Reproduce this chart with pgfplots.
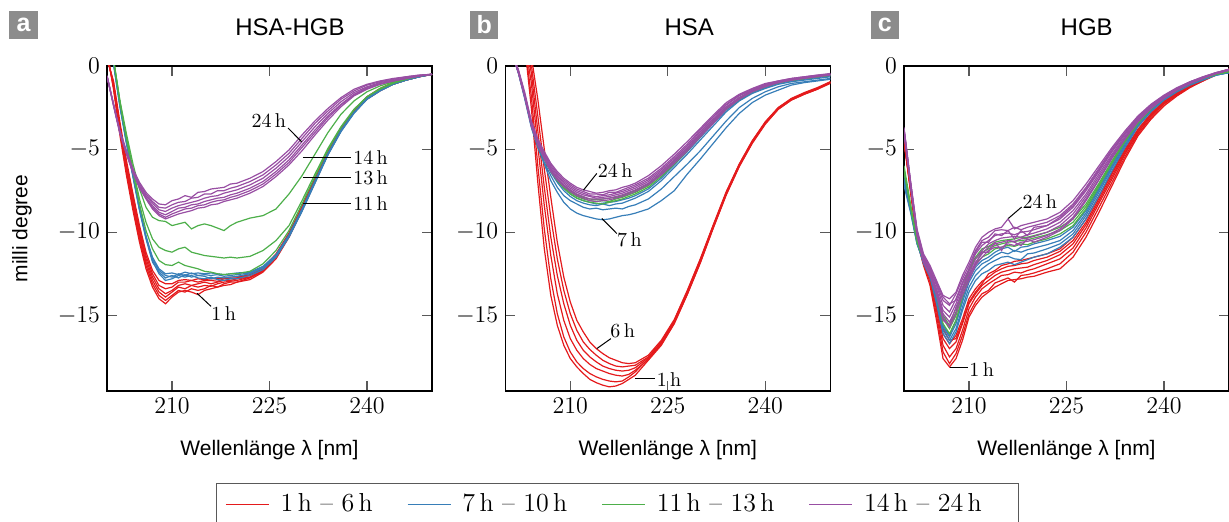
\documentclass[border=0pt]{standalone}
\usepackage{fontspec}
\usepackage{pgfplots}
\usepackage{pgfplotstable}
\pgfplotsset{compat=1.18}
\newfontfamily\lab{Liberation Sans}
\definecolor{cR}{HTML}{E41A1C}
\definecolor{cB}{HTML}{377EB8}
\definecolor{cG}{HTML}{4DAF4A}
\definecolor{cP}{HTML}{984EA3}

% Panel a: HSA-HGB
\pgfplotstableread{
x r1 r2 r3 r4 r5 r6 b1 b2 b3 b4 g1 g2 g3 p1 p2 p3 p4 p5 p6
200 0.9 0.8 0.7 0.6 0.5 0.4 1.6 1.5 1.7 1.6 1.8 1.8 1.8 -0.6 -0.6 -0.6 -0.6 -0.6 -0.6
201 -1.4 -1.3 -1.2 -1.1 -1.0 -0.9 0.2 0.1 0.3 0.2 0.4 0.4 0.4 -2.3 -2.3 -2.3 -2.3 -2.35 -2.4
202 -4.2 -4.0 -3.9 -3.7 -3.6 -3.4 -2.4 -2.5 -2.3 -2.4 -2.2 -2.2 -2.1 -3.9 -4.0 -4.0 -4.0 -4.05 -4.1
203 -6.6 -6.4 -6.2 -6.0 -5.9 -5.7 -4.6 -4.7 -4.5 -4.6 -4.4 -4.3 -4.1 -5.1 -5.2 -5.2 -5.25 -5.3 -5.3
204 -8.7 -8.5 -8.3 -8.1 -7.9 -7.7 -6.6 -6.7 -6.5 -6.6 -6.4 -6.2 -5.9 -6.2 -6.25 -6.3 -6.35 -6.4 -6.45
205 -10.6 -10.4 -10.2 -10.0 -9.8 -9.6 -8.6 -8.7 -8.5 -8.6 -8.3 -8.0 -7.4 -7.0 -7.1 -7.2 -7.25 -7.3 -7.35
206 -12.2 -12.0 -11.8 -11.6 -11.4 -11.2 -10.3 -10.4 -10.2 -10.3 -9.9 -9.4 -8.5 -7.6 -7.7 -7.8 -7.9 -7.95 -8.0
207 -13.3 -13.1 -12.9 -12.7 -12.5 -12.3 -11.7 -11.8 -11.6 -11.5 -11.0 -10.4 -9.1 -8.0 -8.15 -8.25 -8.4 -8.5 -8.6
208 -14.0 -13.8 -13.6 -13.4 -13.2 -12.9 -12.5 -12.4 -12.3 -12.2 -11.7 -10.9 -9.3 -8.3 -8.5 -8.65 -8.8 -8.9 -9.0
209 -14.3 -14.1 -13.9 -13.7 -13.4 -13.1 -12.9 -12.75 -12.6 -12.5 -11.95 -11.1 -9.35 -8.35 -8.55 -8.75 -8.95 -9.1 -9.2
210 -13.9 -13.8 -13.6 -13.5 -13.3 -13.1 -12.8 -12.6 -12.7 -12.45 -12.0 -11.2 -9.6 -8.1 -8.35 -8.55 -8.75 -8.9 -9.05
211 -13.6 -13.5 -13.3 -13.2 -13.0 -12.9 -12.6 -12.75 -12.5 -12.55 -11.8 -11.0 -9.5 -8.0 -8.2 -8.4 -8.55 -8.75 -8.9
212 -13.5 -13.6 -13.4 -13.1 -13.0 -12.85 -12.7 -12.55 -12.6 -12.4 -12.0 -10.9 -9.4 -7.8 -8.15 -8.3 -8.5 -8.6 -8.8
213 -13.6 -13.4 -13.2 -13.2 -12.9 -12.9 -12.6 -12.7 -12.45 -12.5 -12.1 -11.2 -9.8 -7.9 -7.95 -8.2 -8.35 -8.55 -8.7
214 -13.75 -13.5 -13.3 -13.1 -13.0 -12.8 -12.75 -12.6 -12.6 -12.45 -12.2 -11.3 -9.6 -7.6 -7.9 -8.1 -8.3 -8.4 -8.55
215 -13.5 -13.4 -13.2 -13.0 -12.9 -12.85 -12.8 -12.65 -12.55 -12.5 -12.35 -11.4 -9.5 -7.55 -7.7 -7.95 -8.15 -8.35 -8.5
216 -13.4 -13.2 -13.25 -13.1 -12.9 -12.8 -12.7 -12.8 -12.6 -12.45 -12.4 -11.45 -9.6 -7.4 -7.7 -7.85 -8.05 -8.2 -8.35
217 -13.3 -13.3 -13.1 -13.0 -12.95 -12.8 -12.85 -12.7 -12.55 -12.5 -12.5 -11.5 -9.75 -7.35 -7.5 -7.8 -7.95 -8.1 -8.3
218 -13.2 -13.1 -13.0 -12.9 -12.8 -12.75 -12.9 -12.75 -12.65 -12.55 -12.55 -11.55 -9.9 -7.3 -7.5 -7.65 -7.9 -8.05 -8.15
219 -13.15 -13.0 -12.95 -12.9 -12.8 -12.7 -12.8 -12.7 -12.6 -12.5 -12.5 -11.5 -9.6 -7.1 -7.35 -7.55 -7.75 -7.9 -8.05
220 -13.0 -13.0 -12.9 -12.8 -12.75 -12.7 -12.8 -12.65 -12.55 -12.45 -12.5 -11.55 -9.4 -7.05 -7.25 -7.45 -7.65 -7.8 -7.95
222 -12.85 -12.75 -12.7 -12.7 -12.6 -12.55 -12.6 -12.5 -12.45 -12.4 -12.35 -11.45 -9.15 -6.75 -6.95 -7.15 -7.35 -7.5 -7.65
224 -12.4 -12.35 -12.3 -12.25 -12.2 -12.15 -12.25 -12.15 -12.1 -12.05 -11.9 -11.1 -9.0 -6.35 -6.55 -6.75 -6.95 -7.1 -7.25
226 -11.6 -11.5 -11.45 -11.4 -11.35 -11.3 -11.5 -11.45 -11.4 -11.35 -11.1 -10.5 -8.6 -5.75 -5.95 -6.15 -6.35 -6.5 -6.65
228 -10.3 -10.25 -10.2 -10.15 -10.1 -10.05 -10.3 -10.25 -10.2 -10.15 -9.9 -9.6 -7.7 -5.05 -5.25 -5.45 -5.65 -5.8 -5.95
230 -8.7 -8.65 -8.6 -8.55 -8.5 -8.45 -8.75 -8.7 -8.65 -8.6 -8.3 -8.1 -6.6 -4.15 -4.35 -4.55 -4.75 -4.9 -5.1
232 -7.0 -6.95 -6.9 -6.85 -6.8 -6.75 -7.05 -7.0 -6.95 -6.9 -6.65 -6.5 -5.3 -3.3 -3.45 -3.65 -3.85 -4.0 -4.15
234 -5.3 -5.25 -5.2 -5.2 -5.15 -5.1 -5.35 -5.3 -5.3 -5.25 -5.05 -4.95 -4.0 -2.55 -2.7 -2.85 -3.0 -3.1 -3.25
236 -3.9 -3.85 -3.85 -3.8 -3.8 -3.75 -3.95 -3.9 -3.9 -3.85 -3.7 -3.65 -2.9 -1.9 -2.0 -2.15 -2.3 -2.35 -2.45
238 -2.8 -2.75 -2.75 -2.7 -2.7 -2.65 -2.85 -2.8 -2.8 -2.8 -2.65 -2.6 -2.1 -1.4 -1.5 -1.6 -1.7 -1.75 -1.8
240 -2.0 -1.95 -1.95 -1.9 -1.9 -1.85 -2.0 -2.0 -1.95 -1.95 -1.85 -1.85 -1.55 -1.1 -1.15 -1.25 -1.3 -1.35 -1.4
242 -1.5 -1.45 -1.45 -1.4 -1.4 -1.35 -1.5 -1.5 -1.45 -1.45 -1.4 -1.35 -1.2 -0.9 -0.95 -1.0 -1.05 -1.1 -1.1
244 -1.1 -1.1 -1.05 -1.05 -1.05 -1.0 -1.1 -1.1 -1.1 -1.1 -1.05 -1.0 -0.95 -0.75 -0.8 -0.85 -0.9 -0.9 -0.9
246 -0.85 -0.85 -0.85 -0.8 -0.8 -0.8 -0.85 -0.85 -0.85 -0.85 -0.8 -0.8 -0.75 -0.65 -0.65 -0.7 -0.75 -0.75 -0.75
248 -0.65 -0.65 -0.65 -0.6 -0.6 -0.6 -0.65 -0.65 -0.65 -0.65 -0.6 -0.6 -0.6 -0.55 -0.55 -0.6 -0.6 -0.6 -0.6
250 -0.5 -0.5 -0.5 -0.5 -0.5 -0.5 -0.5 -0.5 -0.5 -0.5 -0.5 -0.5 -0.5 -0.5 -0.5 -0.5 -0.5 -0.5 -0.5
}\tabA

% Panel b: HSA
\pgfplotstableread{
x r1 r2 r3 r4 r5 r6 b1 b2 b3 b4 g1 g2 g3 p1 p2 p3 p4 p5 p6
200 3.0 3.0 3.0 3.0 3.0 3.0 2.0 2.0 2.0 2.0 2.0 2.0 2.0 2.0 2.0 2.0 2.0 2.0 2.0
201 2.5 2.5 2.5 2.6 2.6 2.6 0.8 0.8 0.8 0.8 0.8 0.8 0.8 0.8 0.8 0.8 0.8 0.8 0.8
202 2.0 2.0 2.1 2.1 2.2 2.2 -0.4 -0.4 -0.35 -0.35 -0.3 -0.3 -0.3 -0.2 -0.25 -0.3 -0.3 -0.35 -0.4
203 1.2 1.3 1.4 1.5 1.5 1.5 -2.0 -1.9 -1.85 -1.85 -1.8 -1.8 -1.8 -1.6 -1.7 -1.75 -1.8 -1.85 -1.9
204 -2.5 -1.8 -1.0 -0.4 0.1 0.6 -3.7 -3.6 -3.55 -3.5 -3.5 -3.5 -3.5 -3.3 -3.4 -3.45 -3.5 -3.55 -3.6
205 -7.0 -6.0 -4.8 -3.9 -3.0 -2.0 -4.9 -4.8 -4.7 -4.7 -4.7 -4.7 -4.65 -4.4 -4.5 -4.55 -4.65 -4.7 -4.75
206 -11.0 -9.8 -8.4 -7.3 -6.2 -5.0 -5.9 -5.8 -5.6 -5.55 -5.6 -5.6 -5.5 -5.15 -5.25 -5.35 -5.45 -5.5 -5.6
207 -13.8 -12.8 -11.4 -10.3 -9.1 -7.9 -6.9 -6.6 -6.4 -6.3 -6.3 -6.35 -6.25 -5.85 -5.95 -6.05 -6.15 -6.25 -6.35
208 -15.6 -14.9 -13.7 -12.6 -11.6 -10.6 -7.6 -7.3 -7.0 -6.9 -6.85 -6.9 -6.8 -6.35 -6.45 -6.55 -6.65 -6.75 -6.85
209 -16.8 -16.3 -15.3 -14.3 -13.5 -12.7 -8.2 -7.8 -7.5 -7.35 -7.3 -7.35 -7.2 -6.75 -6.85 -6.95 -7.05 -7.15 -7.25
210 -17.6 -17.2 -16.4 -15.6 -14.9 -14.2 -8.6 -8.1 -7.85 -7.7 -7.6 -7.7 -7.5 -7.05 -7.15 -7.25 -7.35 -7.45 -7.55
211 -18.1 -17.8 -17.1 -16.5 -15.9 -15.3 -8.85 -8.3 -8.1 -7.95 -7.85 -7.95 -7.75 -7.3 -7.4 -7.5 -7.6 -7.7 -7.8
212 -18.5 -18.2 -17.6 -17.1 -16.6 -16.0 -9.0 -8.5 -8.25 -8.1 -8.0 -8.1 -7.9 -7.45 -7.55 -7.65 -7.75 -7.85 -7.95
213 -18.85 -18.5 -17.95 -17.5 -17.05 -16.6 -9.1 -8.6 -8.35 -8.2 -8.1 -8.2 -8.0 -7.55 -7.7 -7.8 -7.85 -8.0 -8.1
214 -19.05 -18.7 -18.2 -17.8 -17.4 -17.0 -9.2 -8.55 -8.4 -8.3 -8.15 -8.25 -8.05 -7.65 -7.7 -7.85 -7.95 -8.0 -8.15
215 -19.2 -18.85 -18.35 -18.05 -17.7 -17.3 -9.25 -8.65 -8.3 -8.25 -8.1 -8.3 -8.0 -7.6 -7.75 -7.8 -7.9 -8.0 -8.1
216 -19.3 -18.95 -18.5 -18.2 -17.9 -17.55 -9.2 -8.6 -8.4 -8.2 -8.15 -8.2 -7.95 -7.5 -7.6 -7.75 -7.85 -7.95 -8.05
217 -19.25 -19.0 -18.6 -18.3 -18.05 -17.7 -9.1 -8.55 -8.3 -8.15 -8.0 -8.1 -7.9 -7.45 -7.6 -7.65 -7.75 -7.85 -7.95
218 -19.1 -18.95 -18.65 -18.35 -18.1 -17.85 -9.0 -8.6 -8.25 -8.05 -7.9 -8.0 -7.8 -7.3 -7.45 -7.55 -7.65 -7.75 -7.85
219 -18.85 -18.7 -18.55 -18.3 -18.05 -17.9 -8.95 -8.45 -8.1 -7.95 -7.75 -7.85 -7.65 -7.2 -7.3 -7.4 -7.5 -7.6 -7.7
220 -18.6 -18.4 -18.3 -18.15 -18.0 -17.85 -8.85 -8.35 -7.95 -7.8 -7.6 -7.7 -7.5 -7.05 -7.15 -7.25 -7.35 -7.45 -7.55
222 -17.7 -17.6 -17.65 -17.55 -17.5 -17.4 -8.6 -8.0 -7.55 -7.4 -7.2 -7.3 -7.1 -6.6 -6.75 -6.85 -6.95 -7.05 -7.15
224 -16.8 -16.7 -16.75 -16.6 -16.6 -16.5 -8.1 -7.4 -6.9 -6.75 -6.55 -6.65 -6.45 -6.0 -6.15 -6.25 -6.35 -6.45 -6.55
226 -15.5 -15.4 -15.45 -15.35 -15.3 -15.25 -7.5 -6.65 -6.1 -5.95 -5.8 -5.9 -5.7 -5.3 -5.45 -5.55 -5.65 -5.75 -5.85
228 -13.75 -13.7 -13.7 -13.6 -13.55 -13.5 -6.5 -5.9 -5.3 -5.15 -5.0 -5.1 -4.95 -4.55 -4.7 -4.8 -4.9 -5.0 -5.1
230 -11.85 -11.8 -11.8 -11.7 -11.65 -11.6 -5.6 -5.1 -4.45 -4.3 -4.15 -4.25 -4.1 -3.75 -3.85 -3.95 -4.05 -4.15 -4.25
232 -9.75 -9.7 -9.7 -9.6 -9.6 -9.55 -4.65 -4.2 -3.6 -3.45 -3.35 -3.4 -3.3 -2.95 -3.05 -3.15 -3.25 -3.35 -3.45
234 -7.75 -7.7 -7.7 -7.65 -7.6 -7.55 -3.7 -3.3 -2.75 -2.65 -2.55 -2.6 -2.5 -2.2 -2.3 -2.35 -2.45 -2.5 -2.6
236 -6.05 -6.0 -6.0 -5.95 -5.9 -5.9 -2.85 -2.5 -2.1 -2.05 -1.95 -2.0 -1.9 -1.7 -1.75 -1.8 -1.9 -1.95 -2.0
238 -4.65 -4.6 -4.6 -4.55 -4.5 -4.5 -2.2 -1.95 -1.65 -1.6 -1.5 -1.55 -1.5 -1.35 -1.4 -1.45 -1.5 -1.5 -1.55
240 -3.5 -3.45 -3.45 -3.4 -3.4 -3.35 -1.75 -1.55 -1.35 -1.3 -1.2 -1.25 -1.2 -1.05 -1.1 -1.15 -1.2 -1.2 -1.25
242 -2.6 -2.6 -2.55 -2.55 -2.5 -2.5 -1.45 -1.25 -1.1 -1.05 -1.0 -1.0 -1.0 -0.9 -0.9 -0.95 -0.95 -1.0 -1.0
244 -2.05 -2.05 -2.0 -2.0 -2.0 -1.95 -1.15 -1.05 -0.95 -0.9 -0.85 -0.85 -0.85 -0.75 -0.75 -0.8 -0.8 -0.85 -0.85
246 -1.7 -1.7 -1.65 -1.65 -1.65 -1.6 -1.0 -0.95 -0.85 -0.8 -0.75 -0.75 -0.75 -0.65 -0.65 -0.7 -0.7 -0.7 -0.75
248 -1.4 -1.4 -1.35 -1.35 -1.35 -1.3 -0.9 -0.85 -0.75 -0.7 -0.65 -0.65 -0.65 -0.55 -0.55 -0.6 -0.6 -0.6 -0.65
250 -1.05 -1.0 -1.0 -1.0 -0.95 -0.95 -0.8 -0.75 -0.65 -0.6 -0.55 -0.55 -0.55 -0.45 -0.5 -0.5 -0.5 -0.5 -0.55
}\tabB

% Panel c: HGB
\pgfplotstableread{
x r1 r2 r3 r4 r5 r6 b1 b2 b3 b4 g1 g2 g3 p1 p2 p3 p4 p5 p6 p7 p8
200 -4.4 -4.5 -4.6 -4.5 -4.4 -4.5 -6.5 -6.8 -7.0 -7.2 -6.0 -6.2 -6.4 -3.7 -3.8 -3.8 -3.9 -3.9 -4.0 -3.8 -4.0
201 -7.6 -7.5 -7.4 -7.3 -7.2 -7.3 -8.5 -8.6 -8.7 -8.8 -8.3 -8.4 -8.5 -6.9 -7.0 -7.0 -7.1 -7.1 -7.2 -7.0 -7.2
202 -10.5 -10.4 -10.3 -10.2 -10.1 -10.2 -10.6 -10.6 -10.7 -10.7 -10.5 -10.5 -10.6 -9.8 -9.9 -10.0 -10.0 -10.1 -10.2 -10.0 -10.2
203 -12.0 -11.9 -11.8 -11.7 -11.6 -11.7 -11.9 -11.8 -11.8 -11.7 -11.7 -11.7 -11.7 -11.3 -11.4 -11.5 -11.6 -11.7 -11.8 -11.5 -11.8
204 -13.2 -13.0 -12.8 -12.7 -12.6 -12.5 -12.7 -12.6 -12.5 -12.4 -12.4 -12.4 -12.3 -12.0 -12.1 -12.2 -12.3 -12.4 -12.5 -12.2 -12.6
205 -15.3 -15.0 -14.7 -14.5 -14.3 -14.1 -14.3 -14.1 -14.0 -13.9 -13.8 -13.7 -13.6 -12.9 -13.1 -13.2 -13.4 -13.5 -13.6 -13.0 -13.8
206 -17.6 -17.2 -16.8 -16.4 -16.1 -15.8 -16.1 -15.9 -15.7 -15.6 -15.5 -15.2 -15.0 -13.8 -14.1 -14.4 -14.7 -14.9 -15.1 -13.9 -15.3
207 -18.1 -17.9 -17.5 -17.0 -16.7 -16.5 -16.7 -16.5 -16.3 -16.2 -16.1 -15.8 -15.6 -14.0 -14.4 -14.8 -15.1 -15.4 -15.7 -14.3 -15.6
208 -17.6 -17.3 -17.0 -16.6 -16.2 -16.4 -16.0 -15.8 -15.5 -15.3 -15.3 -15.0 -14.8 -13.6 -13.7 -14.0 -14.3 -14.6 -14.9 -14.1 -14.5
209 -16.5 -16.2 -15.9 -15.5 -15.2 -15.4 -14.7 -14.5 -14.2 -14.0 -13.9 -13.6 -13.4 -12.6 -12.8 -13.0 -13.3 -13.5 -13.8 -13.1 -13.6
210 -15.1 -14.9 -14.6 -14.3 -14.0 -14.2 -13.6 -13.3 -13.0 -12.8 -12.6 -12.3 -12.2 -11.8 -12.0 -12.2 -12.5 -12.7 -12.9 -12.3 -12.6
211 -14.4 -14.2 -13.9 -13.7 -13.4 -13.6 -12.9 -12.6 -12.3 -12.1 -11.9 -11.6 -11.5 -10.9 -11.1 -11.3 -11.6 -11.8 -12.0 -11.2 -11.9
212 -13.9 -13.7 -13.4 -13.2 -12.95 -13.1 -12.5 -12.2 -11.9 -11.7 -11.5 -11.2 -11.0 -10.3 -10.5 -10.8 -11.1 -11.3 -11.5 -10.6 -11.2
213 -13.6 -13.5 -13.1 -12.9 -12.7 -12.5 -12.3 -11.9 -11.7 -11.5 -11.3 -11.0 -10.85 -10.0 -10.3 -10.5 -10.7 -10.9 -11.1 -10.6 -11.2
214 -13.3 -13.05 -12.85 -12.6 -12.4 -12.3 -12.0 -11.7 -11.4 -11.2 -11.0 -10.8 -10.6 -9.8 -9.9 -10.2 -10.5 -10.7 -10.9 -10.1 -10.6
215 -13.1 -12.9 -12.6 -12.4 -12.2 -12.0 -11.9 -11.5 -11.2 -11.0 -10.9 -10.7 -10.5 -9.7 -9.85 -10.1 -10.35 -10.6 -10.9 -10.2 -11.1
216 -12.9 -12.75 -12.55 -12.3 -12.05 -11.9 -11.8 -11.45 -11.3 -10.9 -10.8 -10.6 -10.45 -9.2 -9.9 -10.05 -10.3 -10.5 -10.7 -9.9 -10.5
217 -12.85 -13.0 -12.4 -12.2 -12.0 -11.75 -11.95 -11.6 -11.1 -11.15 -10.85 -10.55 -10.4 -9.8 -9.7 -10.15 -10.25 -10.55 -10.8 -10.4 -10.6
218 -12.8 -12.6 -12.45 -12.15 -11.9 -11.7 -11.8 -11.65 -11.2 -10.9 -10.7 -10.5 -10.3 -9.6 -9.85 -10.0 -10.3 -10.4 -10.6 -9.9 -10.8
219 -12.7 -12.55 -12.3 -12.1 -11.85 -11.6 -11.65 -11.3 -11.05 -10.85 -10.75 -10.45 -10.3 -9.5 -9.7 -9.95 -10.15 -10.35 -10.55 -10.2 -10.4
220 -12.65 -12.45 -12.2 -11.95 -11.7 -11.5 -11.5 -11.25 -10.95 -10.7 -10.6 -10.35 -10.2 -9.4 -9.6 -9.85 -10.05 -10.25 -10.45 -9.7 -10.6
222 -12.4 -12.2 -11.9 -11.7 -11.5 -11.3 -11.3 -11.0 -10.75 -10.5 -10.4 -10.15 -10.0 -9.2 -9.4 -9.6 -9.8 -10.0 -10.2 -9.6 -10.3
224 -12.2 -11.9 -11.6 -11.35 -11.15 -11.0 -10.9 -10.7 -10.5 -10.25 -10.1 -9.9 -9.7 -8.8 -9.0 -9.2 -9.4 -9.6 -9.8 -9.1 -9.9
226 -11.5 -11.2 -10.95 -10.7 -10.5 -10.3 -10.3 -10.1 -9.9 -9.7 -9.6 -9.4 -9.2 -8.1 -8.3 -8.5 -8.7 -8.9 -9.1 -8.4 -9.2
228 -10.3 -10.0 -9.75 -9.55 -9.4 -9.2 -9.2 -9.0 -8.85 -8.7 -8.6 -8.45 -8.3 -7.1 -7.3 -7.5 -7.7 -7.85 -8.0 -7.4 -8.1
230 -8.8 -8.5 -8.25 -8.1 -7.95 -7.8 -7.8 -7.6 -7.45 -7.35 -7.25 -7.15 -7.05 -6.0 -6.15 -6.35 -6.5 -6.65 -6.8 -6.25 -6.85
232 -7.2 -7.0 -6.8 -6.65 -6.5 -6.4 -6.3 -6.15 -6.05 -5.95 -5.85 -5.8 -5.7 -4.9 -5.0 -5.15 -5.3 -5.4 -5.5 -5.1 -5.55
234 -5.6 -5.45 -5.3 -5.2 -5.1 -5.0 -4.9 -4.8 -4.7 -4.6 -4.55 -4.5 -4.45 -3.9 -4.0 -4.1 -4.2 -4.3 -4.35 -4.05 -4.4
236 -4.2 -4.1 -4.0 -3.95 -3.85 -3.8 -3.65 -3.6 -3.55 -3.5 -3.45 -3.4 -3.35 -3.0 -3.05 -3.15 -3.2 -3.25 -3.3 -3.1 -3.35
238 -3.2 -3.1 -3.0 -2.95 -2.9 -2.85 -2.75 -2.7 -2.65 -2.6 -2.6 -2.55 -2.5 -2.3 -2.35 -2.4 -2.45 -2.5 -2.55 -2.4 -2.55
240 -2.4 -2.3 -2.25 -2.2 -2.15 -2.1 -2.05 -2.0 -1.95 -1.9 -1.9 -1.9 -1.85 -1.75 -1.8 -1.85 -1.85 -1.9 -1.9 -1.8 -1.95
242 -1.8 -1.75 -1.7 -1.65 -1.6 -1.55 -1.55 -1.5 -1.5 -1.45 -1.45 -1.45 -1.4 -1.3 -1.35 -1.4 -1.4 -1.4 -1.45 -1.35 -1.45
244 -1.3 -1.25 -1.2 -1.15 -1.1 -1.1 -1.15 -1.1 -1.1 -1.05 -1.05 -1.05 -1.0 -0.95 -0.95 -1.0 -1.0 -1.0 -1.05 -0.95 -1.05
246 -0.9 -0.9 -0.85 -0.8 -0.8 -0.75 -0.85 -0.8 -0.8 -0.75 -0.75 -0.75 -0.75 -0.65 -0.65 -0.7 -0.7 -0.7 -0.75 -0.7 -0.75
248 -0.55 -0.5 -0.5 -0.5 -0.45 -0.45 -0.55 -0.55 -0.55 -0.5 -0.5 -0.5 -0.5 -0.4 -0.4 -0.45 -0.45 -0.45 -0.45 -0.4 -0.45
250 -0.2 -0.2 -0.2 -0.2 -0.2 -0.2 -0.4 -0.4 -0.4 -0.4 -0.35 -0.35 -0.35 -0.2 -0.2 -0.25 -0.25 -0.25 -0.25 -0.2 -0.25
}\tabC

\tikzset{ann/.style={font=\fontsize{10}{12}\selectfont, inner sep=0pt}}
\pgfplotsset{
  cdstyle/.style={
    width=162.5pt, height=162.5pt, scale only axis,
    anchor=north west,
    xmin=200, xmax=250, ymin=-19.55, ymax=0,
    xtick={210,225,240}, ytick={0,-5,-10,-15},
    tick align=inside, major tick length=5pt,
    tick style={black!65, line width=0.6pt},
    axis line style={line width=0.8pt},
    tick label style={font=\fontsize{13}{15}\selectfont},
    xlabel={\lab Wellenlänge λ [nm]},
    xlabel style={at={(axis description cs:0.5,-0.1815)}, anchor=center, font=\fontsize{10.5}{12}\selectfont},
    every axis plot/.append style={line width=0.6pt},
    clip=true,
  },
}

\newcommand{\plotall}[2]{%
  \pgfplotsinvokeforeach{r1,r2,r3,r4,r5,r6}{\addplot[cR,forget plot] table[x=x,y=##1]{#1};}
  \pgfplotsinvokeforeach{b1,b2,b3,b4}{\addplot[cB,forget plot] table[x=x,y=##1]{#1};}
  \pgfplotsinvokeforeach{g1,g2,g3}{\addplot[cG,forget plot] table[x=x,y=##1]{#1};}
  \pgfplotsinvokeforeach{#2}{\addplot[cP,forget plot] table[x=x,y=##1]{#1};}
}

\begin{document}
\begin{tikzpicture}
% ---------- panel a ----------
\begin{axis}[cdstyle, at={(53.5pt,-33pt)},
  ylabel={\lab milli degree},
  ylabel style={at={(axis description cs:-0.2615,0.5)}, anchor=center, font=\fontsize{10.5}{12}\selectfont}]
\plotall{\tabA}{p1,p2,p3,p4,p5,p6}
\draw[line width=0.5pt] (axis cs:227.85,-3.73) -- (axis cs:229.95,-4.56);
\node[ann] at (axis cs:224.9,-3.28) {24\,h};
\draw[line width=0.5pt] (axis cs:230.15,-5.48) -- (axis cs:237.5,-5.48) node[ann,anchor=west,xshift=1pt] {14\,h};
\draw[line width=0.5pt] (axis cs:230.15,-6.72) -- (axis cs:237.5,-6.72) node[ann,anchor=west,xshift=1pt] {13\,h};
\draw[line width=0.5pt] (axis cs:230.15,-8.28) -- (axis cs:237.5,-8.28) node[ann,anchor=west,xshift=1pt] {11\,h};
\draw[line width=0.5pt] (axis cs:213.85,-13.67) -- (axis cs:216.0,-14.46);
\node[ann] at (axis cs:217.95,-14.9) {1\,h};
\end{axis}
% ---------- panel b ----------
\begin{axis}[cdstyle, at={(252.65pt,-33pt)},
  legend style={at={(0.345,-0.2822)}, anchor=north, legend columns=4,
    draw=black!65, line width=0.5pt, font=\fontsize{13}{15}\selectfont,
    inner xsep=4.5pt, inner ysep=3.3pt,
    /tikz/every odd column/.append style={column sep=3.5pt},
    /tikz/every even column/.append style={column sep=15pt}},
  legend cell align=left,
  legend image code/.code={\draw[#1,line width=0.8pt] (0pt,0pt) -- (21.5pt,0pt);}]
\plotall{\tabB}{p1,p2,p3,p4,p5,p6}
\draw[line width=0.5pt] (axis cs:214.08,-6.46) -- (axis cs:212.02,-7.47);
\node[ann] at (axis cs:216.9,-6.27) {24\,h};
\draw[line width=0.5pt] (axis cs:214.85,-9.17) -- (axis cs:217.16,-10.08);
\node[ann] at (axis cs:219.1,-10.44) {7\,h};
\draw[line width=0.5pt] (axis cs:214.08,-17.0) -- (axis cs:216.24,-16.4);
\node[ann] at (axis cs:218.06,-15.9) {6\,h};
\draw[line width=0.5pt] (axis cs:219.98,-18.81) -- (axis cs:223.07,-18.81);
\node[ann] at (axis cs:225.18,-18.86) {1\,h};
\addlegendimage{cR}\addlegendentry{1\,h -- 6\,h}
\addlegendimage{cB}\addlegendentry{7\,h -- 10\,h}
\addlegendimage{cG}\addlegendentry{11\,h -- 13\,h}
\addlegendimage{cP}\addlegendentry{14\,h -- 24\,h\rule{12pt}{0pt}}
\end{axis}
% ---------- panel c ----------
\begin{axis}[cdstyle, at={(452pt,-33pt)}]
\plotall{\tabC}{p1,p2,p3,p4,p5,p6,p7,p8}
\draw[line width=0.5pt] (axis cs:216.05,-9.17) -- (axis cs:218.1,-8.48);
\node[ann] at (axis cs:220.9,-8.17) {24\,h};
\draw[line width=0.5pt] (axis cs:207.08,-18.15) -- (axis cs:209.9,-18.15);
\node[ann] at (axis cs:211.95,-18.25) {1\,h};
\end{axis}
% ---------- titles and panel letters ----------
\node[font=\lab\fontsize{12}{14}\selectfont] at (145pt,-13.85pt) {HSA-HGB};
\node[font=\lab\fontsize{12}{14}\selectfont] at (344.65pt,-13.85pt) {HSA};
\node[font=\lab\fontsize{12}{14}\selectfont] at (543.35pt,-13.85pt) {HGB};
\fill[black!45] (4.65pt,-5.35pt) rectangle (18.85pt,-19.5pt);
\fill[black!45] (235pt,-5.35pt) rectangle (249.15pt,-19.5pt);
\fill[black!45] (435.35pt,-5.35pt) rectangle (449.5pt,-19.5pt);
\node[white,font=\lab\bfseries\fontsize{12.5}{14}\selectfont] at (11.75pt,-12.6pt) {a};
\node[white,font=\lab\bfseries\fontsize{12.5}{14}\selectfont] at (242.07pt,-12.2pt) {b};
\node[white,font=\lab\bfseries\fontsize{12.5}{14}\selectfont] at (442.42pt,-12.6pt) {c};
\pgfresetboundingbox
\useasboundingbox (0pt,0pt) rectangle (614.5pt,-261pt);
\end{tikzpicture}
\end{document}
